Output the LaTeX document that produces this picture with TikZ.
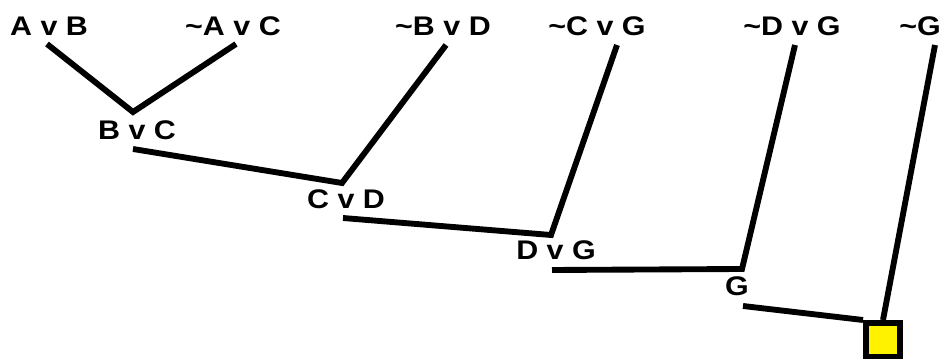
\documentclass[tikz,border=0pt]{standalone}
\usepackage{fontspec}
\setmainfont{Liberation Sans}[FakeStretch=1.13]
\usetikzlibrary{positioning}
\tikzset{
    clause/.style={font=\fontsize{20.2}{24}\selectfont\bfseries, inner sep=0pt},
    edge/.style={line width=4.4pt, black},
    emptybox/.style={draw, line width=4.5pt, fill=yellow, minimum size=25.5pt, inner sep=0pt}
}
\begin{document}
\begin{tikzpicture}[x=0.75pt, y=-0.75pt]
    \useasboundingbox (0,0) rectangle (942,359);

    % Input clauses (top row)
    \node[clause] (avb)  at (49,26)  {A v B};
    \node[clause] (navc) at (233,26) {\char`~A v C};
    \node[clause] (nbvd) at (443,26) {\char`~B v D};
    \node[clause] (ncvg) at (597,26) {\char`~C v G};
    \node[clause] (ndvg) at (792,26) {\char`~D v G};
    \node[clause] (ng)   at (920,26) {\char`~G};

    % Resolvents
    \node[clause] (bvc) at (137,130) {B v C};
    \node[clause] (cvd) at (346,199) {C v D};
    \node[clause] (dvg) at (556,250) {D v G};
    \node[clause] (g)   at (737,286) {G};

    % Empty clause
    \node[emptybox] (box) at (883,340) {};

    % Joints and line ends
    \coordinate (avbE)  at (47,44);
    \coordinate (navcE) at (236,44);
    \coordinate (nbvdE) at (446,45);
    \coordinate (ncvgE) at (617,45);
    \coordinate (ndvgE) at (795,45);
    \coordinate (ngE)   at (935,45);
    \coordinate (j1) at (133,112);
    \coordinate (j2) at (342,183);
    \coordinate (j3) at (551,235);
    \coordinate (j4) at (742,269);
    \coordinate (bvcE) at (133,149);
    \coordinate (cvdE) at (343,218);
    \coordinate (dvgE) at (552,270);
    \coordinate (gE)   at (743,306);

    % Resolution steps
    \draw[edge] (avbE) -- (j1) -- (navcE);
    \draw[edge] (bvcE) -- (j2) -- (nbvdE);
    \draw[edge] (cvdE) -- (j3) -- (ncvgE);
    \draw[edge] (dvgE) -- (j4) -- (ndvgE);
    \draw[edge] (gE) -- (box.north west);
    \draw[edge] (ngE) -- (box.north);
\end{tikzpicture}
\end{document}
